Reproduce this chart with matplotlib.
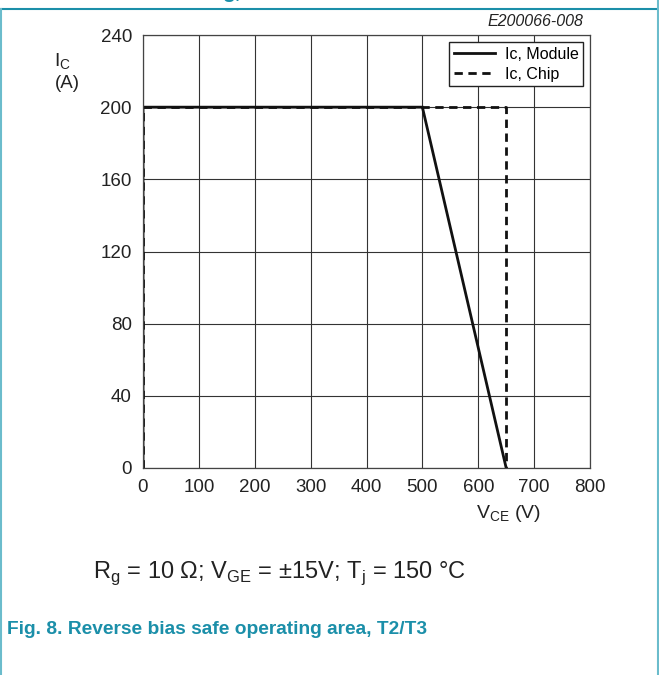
import matplotlib
matplotlib.use("Agg")
import matplotlib.pyplot as plt
from matplotlib.lines import Line2D

plt.rcParams['font.family'] = ['Liberation Sans', 'DejaVu Sans']
plt.rcParams['mathtext.fontset'] = 'custom'
plt.rcParams['mathtext.rm'] = 'Liberation Sans'

# Data
v_module = [0, 0, 500, 650]
i_module = [0, 200, 200, 0]
v_chip = [0, 0, 650, 650]
i_chip = [0, 200, 200, 0]
x_ticks = [0, 100, 200, 300, 400, 500, 600, 700, 800]
y_ticks = [0, 40, 80, 120, 160, 200, 240]
labels = ["Ic, Module", "Ic, Chip"]

teal = "#1b8fa9"
border = "#6bbccc"

fig = plt.figure(figsize=(6.59, 6.75), dpi=100)
W, H = 659, 675
ax = fig.add_axes([143 / W, 1 - 468 / H, (590 - 143) / W, (468 - 35) / H])

ax.plot(v_module, i_module, color="#111111", lw=2.0, solid_joinstyle="miter", label=labels[0])
ax.plot(v_chip, i_chip, color="#111111", lw=2.0, ls=(0, (3.0, 2.0)), label=labels[1])

ax.set_xlim(0, 800)
ax.set_ylim(0, 240)
ax.set_xticks(x_ticks)
ax.set_yticks(y_ticks)
ax.grid(True, color="#333333", lw=0.8)
ax.set_axisbelow(True)
ax.tick_params(length=0, labelsize=13.5, colors="#222222", pad=8)
for s in ax.spines.values():
    s.set_color("#444444")
    s.set_linewidth(0.9)

leg = ax.legend(loc="upper right", bbox_to_anchor=(0.985, 0.984), fontsize=11.5,
                frameon=True, fancybox=False, edgecolor="#222222", framealpha=1,
                handlelength=2.6, borderpad=0.3, labelspacing=0.3, handletextpad=0.6,
                borderaxespad=0)
leg.get_frame().set_linewidth(1.0)

# axis labels
fig.text(62 / W, 1 - 62 / H, r"I$_\mathregular{C}$", fontsize=14, ha="center", va="center", color="#222222")
fig.text(67 / W, 1 - 83 / H, "(A)", fontsize=13.5, ha="center", va="center", color="#222222")
fig.text(508 / W, 1 - 513 / H, r"V$_\mathregular{CE}$ (V)", fontsize=14, ha="center", va="center", color="#222222")
fig.text(583 / W, 1 - 22 / H, "E200066-008", fontsize=11.5, ha="right", va="center",
         style="italic", color="#222222")

# conditions and caption
fig.text(93 / W, 1 - 573 / H,
         r"R$_\mathregular{g}$ = 10 Ω; V$_\mathregular{GE}$ = ±15V; T$_\mathregular{j}$ = 150 °C",
         fontsize=17, ha="left", va="center", color="#222222")
fig.text(7 / W, 1 - 630 / H, "Fig. 8. Reverse bias safe operating area, T2/T3",
         fontsize=13.8, ha="left", va="center", color=teal, fontweight="bold")

# clipped text fragment at top
fig.text(222 / W, 1 - (-2) / H, "g,", fontsize=15, ha="left", va="baseline",
         color=teal, fontweight="bold")

# frame decorations
fig.add_artist(Line2D([0, 1], [1 - 9 / H, 1 - 9 / H], transform=fig.transFigure, color=teal, lw=1.5))
fig.add_artist(Line2D([0.5 / W, 0.5 / W], [0, 1 - 9 / H], transform=fig.transFigure, color=border, lw=1.5))
fig.add_artist(Line2D([1 - 1.5 / W, 1 - 1.5 / W], [0, 1], transform=fig.transFigure, color=border, lw=1.5))

fig.savefig("out.png", dpi=100)
